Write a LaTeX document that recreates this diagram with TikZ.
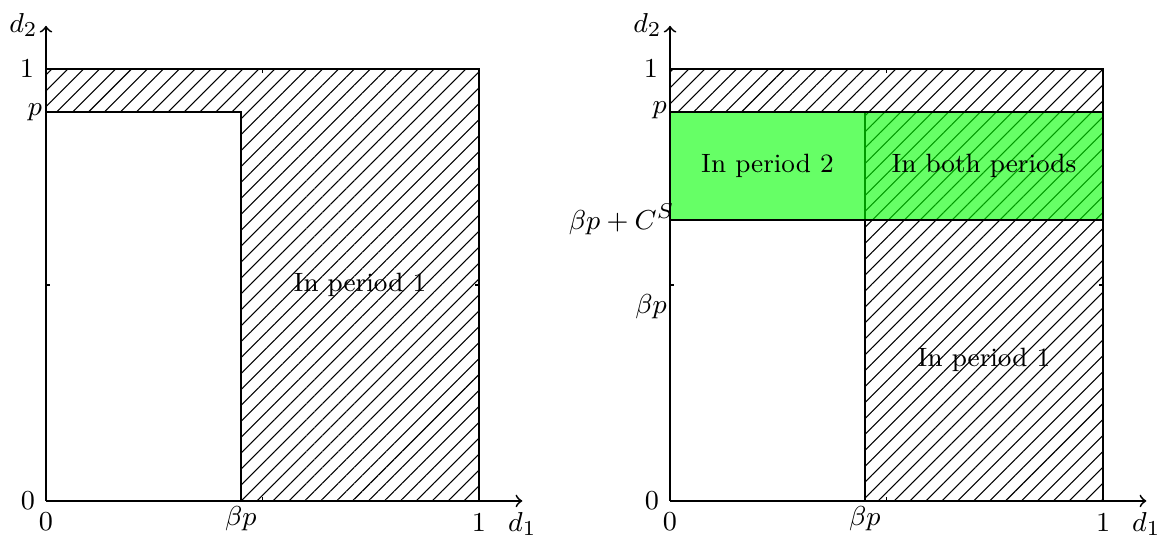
\documentclass[tikz,border=0pt]{standalone}
\usetikzlibrary{patterns.meta}
\begin{document}
\begin{tikzpicture}[x=5cm,y=4.988cm,
  lbl/.style={font=\fontsize{9.5}{11.5}\selectfont, inner sep=0pt},
  numlbl/.style={font=\fontsize{9}{11}\selectfont, inner sep=0pt},
  txt/.style={font=\fontsize{8.7}{10.5}\selectfont, inner sep=0pt},
  box/.style={line width=0.6pt},
  axisline/.style={line width=0.6pt,->},
  hatch/.style={pattern={Lines[angle=45,distance=3.7pt,line width=0.35pt]}},
  tickmark/.style={line width=0.5pt}]
\useasboundingbox (-0.1062,-0.0787) rectangle (2.575,1.1597);

% ---------------- left plot ----------------
\begin{scope}
\fill[hatch] (0,0.9) -- (0,1) -- (1,1) -- (1,0) -- (0.45,0) -- (0.45,0.9) -- cycle;
\draw[box] (0,0.9) -- (0,1) -- (1,1) -- (1,0) -- (0.45,0) -- (0.45,0.9) -- cycle;
\coordinate (LO) at (0,0);
\coordinate (LX) at (1.1,0);
\coordinate (LY) at (0,1.1);
\draw[axisline] (LO) -- (LX);
\draw[axisline] (LO) -- (LY);
\draw[tickmark] (0.5,0) -- ++(0,0.009);
\draw[tickmark] (0,0.5) -- ++(0.009,0);
\draw[tickmark] (0.5,1) -- ++(0,-0.009);
\draw[tickmark] (1,0.5) -- ++(-0.009,0);
\node[numlbl] (L0y) at (-0.0416,0) {$0$};
\node[numlbl] (L0x) at (0,-0.0486) {$0$};
\node[numlbl] (L1x) at (1.0,-0.0498) {$1$};
\node[lbl] (Lbpx) at (0.45,-0.0417) {$\beta p$};
\node[lbl] (Ld1) at (1.1,-0.053) {$d_1$};
\node[lbl] (Ld2) at (-0.052,1.102) {$d_2$};
\node[numlbl] (L1y) at (-0.044,1.0) {$1$};
\node[lbl] (Lpy) at (-0.0254,0.9) {$p$};
\node[txt] (Lper1) at (0.725,0.5) {In period 1};
\end{scope}

% ---------------- right plot ----------------
\begin{scope}[shift={(1.4411,0)}]
\fill[hatch] (0,0.9) -- (0,1) -- (1,1) -- (1,0) -- (0.45,0) -- (0.45,0.9) -- cycle;
\draw[box] (0,0.9) -- (0,1) -- (1,1) -- (1,0) -- (0.45,0) -- (0.45,0.9) -- cycle;
\filldraw[box, fill=green, fill opacity=0.6] (0,0.65) rectangle (1,0.9);
\coordinate (RO) at (0,0);
\coordinate (RX) at (1.1,0);
\coordinate (RY) at (0,1.1);
\draw[axisline] (RO) -- (RX);
\draw[axisline] (RO) -- (RY);
\draw[tickmark] (0.5,0) -- ++(0,0.009);
\draw[tickmark] (0,0.5) -- ++(0.009,0);
\draw[tickmark] (0.5,1) -- ++(0,-0.009);
\draw[tickmark] (1,0.5) -- ++(-0.009,0);
\node[numlbl] (R0y) at (-0.0416,0) {$0$};
\node[numlbl] (R0x) at (0,-0.0486) {$0$};
\node[numlbl] (R1x) at (1.0,-0.0498) {$1$};
\node[lbl] (Rbpx) at (0.45,-0.0417) {$\beta p$};
\node[lbl] (Rd1) at (1.1,-0.053) {$d_1$};
\node[lbl] (Rd2) at (-0.052,1.102) {$d_2$};
\node[numlbl] (R1y) at (-0.044,1.0) {$1$};
\node[lbl] (Rpy) at (-0.024,0.905) {$p$};
\node[lbl, anchor=east] (Rbpc) at (0.0115,0.652) {$\beta p + C^S$};
\node[lbl] (Rbpy) at (-0.0439,0.449) {$\beta p$};
\node[txt] (Rper2) at (0.225,0.775) {In period 2};
\node[txt] (Rboth) at (0.725,0.775) {In both periods};
\node[txt] (Rper1) at (0.725,0.326) {In period 1};
\end{scope}
\end{tikzpicture}
\end{document}
